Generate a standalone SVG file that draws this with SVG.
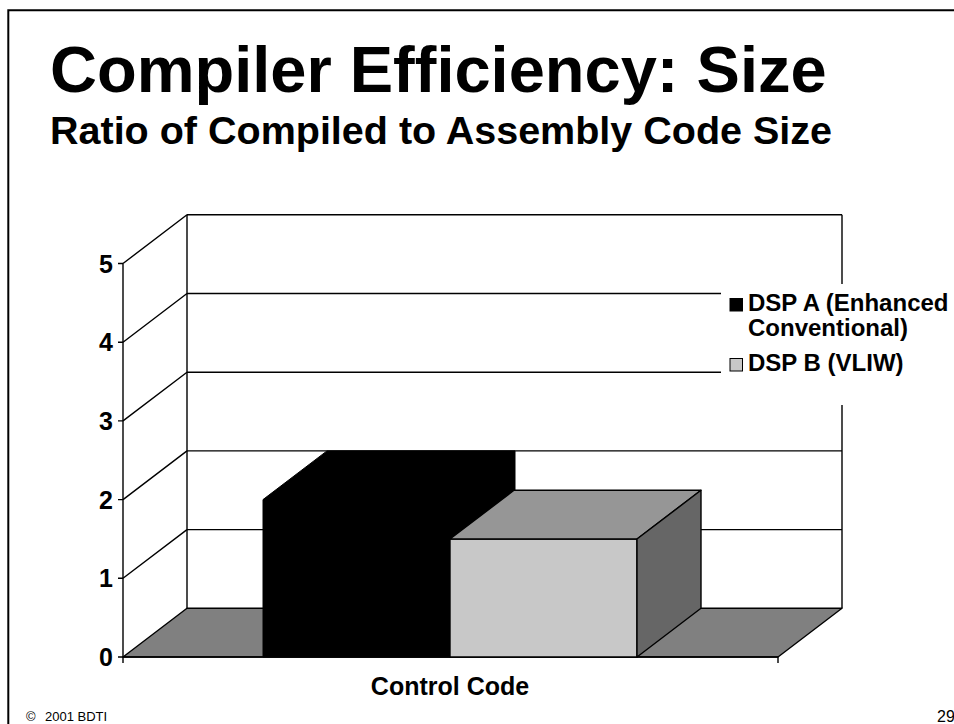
<svg xmlns="http://www.w3.org/2000/svg" width="954" height="724" viewBox="0 0 954 724">
<style>
  .t { font-family: "Liberation Sans", Arial, sans-serif; font-weight: bold; fill: #000; }
  .n { font-family: "Liberation Sans", Arial, sans-serif; fill: #000; }
  .ln { stroke: #000; stroke-width: 1.4; fill: none; }
  .edge { stroke: #000; stroke-width: 1.4; stroke-linejoin: round; }
</style>
<rect x="0" y="0" width="954" height="724" fill="#fff"/>
<path d="M8.3,724 V10.3 H954" fill="none" stroke="#000" stroke-width="2"/>
<g id="title">
  <text class="t" x="50" y="92" font-size="65">Compiler Efficiency: Size</text>
  <text class="t" x="50" y="144" font-size="39.5">Ratio of Compiled to Assembly Code Size</text>
</g>
<g id="walls">
  <rect x="187" y="214.8" width="655" height="393.5" fill="#fff"/>
  <path class="ln" d="M187,214.8 H842 M187,293.5 H842 M187,372.2 H842 M187,450.9 H842 M187,529.6 H842 M187,214.8 V608.3 M842,214.8 V608.3"/>
  <path class="ln" d="M123,263.5 L187,214.8 M123,342.2 L187,293.5 M123,420.9 L187,372.2 M123,499.6 L187,450.9 M123,578.3 L187,529.6"/>
</g>
<g id="floor">
  <polygon class="edge" points="123,657 187,608.3 842,608.3 778,657" fill="#808080"/>
</g>
<g id="axes">
  <path class="ln" d="M123,263.5 V663 M123,657 H778 M778,657 V663 M118,263.5 H123 M118,342.2 H123 M118,420.9 H123 M118,499.6 H123 M118,578.3 H123 M118,657 H123"/>
  <text class="t" font-size="25" text-anchor="end" x="113" y="272.5">5</text>
  <text class="t" font-size="25" text-anchor="end" x="113" y="351.2">4</text>
  <text class="t" font-size="25" text-anchor="end" x="113" y="429.9">3</text>
  <text class="t" font-size="25" text-anchor="end" x="113" y="508.6">2</text>
  <text class="t" font-size="25" text-anchor="end" x="113" y="587.3">1</text>
  <text class="t" font-size="25" text-anchor="end" x="113" y="666">0</text>
  <text class="t" font-size="25" text-anchor="middle" x="450" y="695">Control Code</text>
</g>
<g id="bar-dsp-a">
  <polygon points="263,657 263,499.6 327,450.9 515,450.9 515,608.3 451,657" fill="#000" stroke="#000" stroke-width="1"/>
</g>
<g id="bar-dsp-b">
  <rect class="edge" x="450" y="539" width="187" height="118" fill="#c8c8c8"/>
  <polygon class="edge" points="450,539 514,490.3 701,490.3 637,539" fill="#969696"/>
  <polygon class="edge" points="637,539 701,490.3 701,608.3 637,657" fill="#666666"/>
</g>
<g id="legend">
  <rect x="721" y="284" width="233" height="121" fill="#fff"/>
  <rect x="730" y="298.5" width="12.5" height="12.5" fill="#000" stroke="#000" stroke-width="1"/>
  <text class="t" font-size="24" x="748" y="311">DSP A (Enhanced</text>
  <text class="t" font-size="24" x="748" y="336">Conventional)</text>
  <rect x="730" y="358.5" width="12.5" height="12.5" fill="#c8c8c8" stroke="#000" stroke-width="1"/>
  <text class="t" font-size="24" x="748" y="371">DSP B (VLIW)</text>
</g>
<g id="footer">
  <text class="n" font-size="13" x="26" y="721">©</text>
  <text class="n" font-size="13" x="45" y="721">2001 BDTI</text>
  <text class="n" font-size="16" x="937" y="722">29</text>
</g>
</svg>
